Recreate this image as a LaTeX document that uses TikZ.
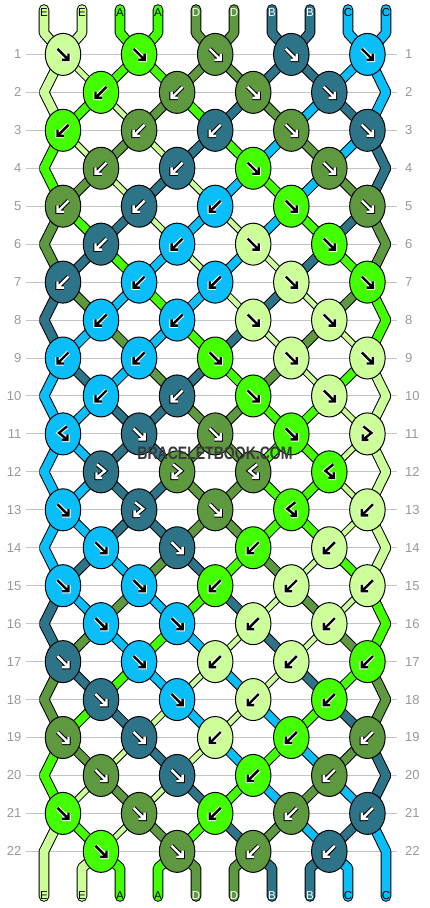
\documentclass[tikz,border=0pt]{standalone}
\usepackage{fontspec}
\setmainfont{Liberation Sans}
\usetikzlibrary{shapes.geometric}
\definecolor{cE}{HTML}{CCFF99}
\definecolor{cA}{HTML}{44FF00}
\definecolor{cD}{HTML}{5E993F}
\definecolor{cB}{HTML}{2E7489}
\definecolor{cC}{HTML}{0ABFF9}
\colorlet{tE}{black}\colorlet{tA}{black}\colorlet{tC}{black}\colorlet{tD}{white}\colorlet{tB}{white}
\colorlet{uE}{white}\colorlet{uA}{white}\colorlet{uC}{white}\colorlet{uD}{black}\colorlet{uB}{black}
\definecolor{gridc}{HTML}{C4C4C4}
\definecolor{numc}{HTML}{999999}
\definecolor{wmc}{HTML}{3A3A3A}
\newcommand\oddk[1]{\ifcase#1\or1\or1\or2\or2\or3\or3\or4\or4\or5\or5\fi}
\newcommand\evenk[1]{\ifcase#1\or L\or1\or1\or2\or2\or3\or3\or4\or4\or R\fi}
\newcommand\pn[2]{k-#1-\ifodd#1 \oddk{#2}\else\evenk{#2}\fi}
\newcommand\sdraw[3]{\ifnum\pss=0\relax\pgfmathsetmacro\sww{#2+2}\def\scc{black}\else\def\sww{#2}\def\scc{c#1}\fi\draw[draw=\scc,line width=\sww pt] #3;}
% glyphs: f = forward, b = backward, gt = ">" hook ending down-left, lt = "<" hook ending down-right
\def\gpf{(-5.5,-5.5) -- (5.5,5.5) (5.5,-0.8) -- (5.5,5.5) -- (-0.8,5.5)}
\def\gpb{(5.5,-5.5) -- (-5.5,5.5) (-5.5,-0.8) -- (-5.5,5.5) -- (0.8,5.5)}
\def\gpgt{(-4,-7.5) -- (4,-1) -- (-4.5,6) (-4.5,0.5) -- (-4.5,6) -- (1,6)}
\def\gplt{(4,-7.5) -- (-4,-1) -- (4.5,6) (4.5,0.5) -- (4.5,6) -- (-1,6)}
\newcommand\knotglyph[3]{\begin{scope}[shift={(#3)}]
  \draw[draw=u#2,line width=4.4pt,line cap=butt,line join=miter] \csname gp#1\endcsname;
  \draw[draw=t#2,line width=2.4pt,line cap=butt,line join=miter] \csname gp#1\endcsname;
\end{scope}}
\begin{document}
\begin{tikzpicture}[x=1pt,y=-1pt,line cap=round,line join=bevel,
  knot/.style={ellipse,draw=black,line width=1pt,minimum width=35.5pt,minimum height=42pt,inner sep=0pt},
  gridline/.style={draw=gridc,line width=1pt,line cap=butt},
  rownum/.style={text=numc,font=\fontsize{13}{13}\selectfont,inner sep=0pt},
  strlab/.style={font=\fontsize{11.5}{12}\selectfont,inner sep=0pt}]
\useasboundingbox (0,0) rectangle (430,908);
\fill[white] (0,0) rectangle (430,908);
% coordinates, grid, row numbers
\foreach \ro in {1,...,22} {
  \pgfmathsetmacro\yy{54.4+(\ro-1)*37.95}
  \ifodd\ro
    \foreach \ko in {1,...,5} {\coordinate (k-\ro-\ko) at ({63+76.1*(\ko-1)},\yy);}
  \else
    \foreach \ko in {1,...,4} {\coordinate (k-\ro-\ko) at ({101+76.1*(\ko-1)},\yy);}
    \coordinate (k-\ro-L) at (44,\yy);
    \coordinate (k-\ro-R) at (386,\yy);
  \fi
  \coordinate (gl-\ro) at (26,\yy);
  \coordinate (gr-\ro) at (397,\yy);
  \draw[gridline] (gl-\ro) -- (gr-\ro);
  \node[rownum,anchor=east] (ln-\ro) at (21.5,\yy) {\ro};
  \node[rownum,anchor=west] (rn-\ro) at (405,\yy) {\ro};
}
\foreach \po in {1,...,10} {
  \coordinate (t-\po) at ({44+38*(\po-1)},9.5);
  \coordinate (tb-\po) at ({44+38*(\po-1)},33);
  \coordinate (bb-\po) at ({44+38*(\po-1)},868);
  \coordinate (b-\po) at ({44+38*(\po-1)},896.5);
}
% strings: pass 0 = outlines, pass 1 = fills
\foreach \pss in {0,1} {
  \foreach \co [count=\po] in {E,E,A,A,D,D,B,B,C,C} {
    \edef\nb{\pn{1}{\po}}
    \sdraw{\co}{8.6}{(t-\po) -- (tb-\po) -- (\nb)}
    \ifnum\po>1 \ifnum\po<10
      \edef\na{\pn{22}{\po}}
      \sdraw{\co}{8.6}{(\na) -- (bb-\po) -- (b-\po)}
    \fi\fi
  }
  \foreach \ro/\cl/\cr in {1/E/C,3/A/B,5/D/D,7/B/A,9/C/E,11/C/E,13/C/E,15/B/A,17/D/D,19/A/B} {
    \pgfmathtruncatemacro\ra{\ro+1}
    \pgfmathtruncatemacro\rb{\ro+2}
    \sdraw{\cl}{8.6}{(k-\ro-1) -- (k-\ra-L) -- (k-\rb-1)}
    \sdraw{\cr}{8.6}{(k-\ro-5) -- (k-\ra-R) -- (k-\rb-5)}
  }
  \sdraw{E}{8.6}{(k-21-1) -- (k-22-L) -- (b-1)}
  \sdraw{C}{8.6}{(k-21-5) -- (k-22-R) -- (b-10)}
  \foreach \ro/\lst in {
    1/{E,E,A,A,D,D,B,B,C,C},
    2/{E,A,E,D,A,B,D,C,B,C},
    3/{A,E,D,E,B,A,C,D,C,B},
    4/{A,D,E,B,E,C,A,C,D,B},
    5/{D,A,B,E,C,E,C,A,B,D},
    6/{D,B,A,C,E,C,E,B,A,D},
    7/{B,D,C,A,C,E,B,E,D,A},
    8/{B,C,D,C,A,B,E,D,E,A},
    9/{C,B,C,D,B,A,D,E,A,E},
    10/{C,C,B,B,D,D,A,A,E,E},
    11/{C,C,B,B,D,D,A,A,E,E},
    12/{C,C,B,B,D,D,A,A,E,E},
    13/{C,C,B,B,D,D,A,A,E,E},
    14/{C,B,C,D,B,A,D,E,A,E},
    15/{B,C,D,C,A,B,E,D,E,A},
    16/{B,D,C,A,C,E,B,E,D,A},
    17/{D,B,A,C,E,C,E,B,A,D},
    18/{D,A,B,E,C,E,C,A,B,D},
    19/{A,D,E,B,E,C,A,C,D,B},
    20/{A,E,D,E,B,A,C,D,C,B},
    21/{E,A,E,D,A,B,D,C,B,C}} {
    \pgfmathtruncatemacro\rn{\ro+1}
    \foreach \co [count=\po] in \lst {
      \ifnum\po>1 \ifnum\po<10
        \edef\na{\pn{\ro}{\po}}
        \edef\nb{\pn{\rn}{\po}}
        \if\co E\def\wf{4.8}\else\def\wf{7.8}\fi
        \sdraw{\co}{\wf}{(\na) -- (\nb)}
      \fi\fi
    }
  }
}
% knots
\foreach \ro/\lst in {
  1/{E/f,A/f,D/f,B/f,C/f},
  2/{A/b,D/b,D/f,B/f},
  3/{A/b,D/b,B/b,D/f,B/f},
  4/{D/b,B/b,A/f,D/f},
  5/{D/b,B/b,C/b,A/f,D/f},
  6/{B/b,C/b,E/f,A/f},
  7/{B/b,C/b,C/b,E/f,A/f},
  8/{C/b,C/b,E/f,E/f},
  9/{C/b,C/b,A/f,E/f,E/f},
  10/{C/b,B/b,A/f,E/f},
  11/{C/lt,B/f,D/f,A/f,E/gt},
  12/{B/gt,D/gt,D/lt,A/lt},
  13/{C/f,B/gt,D/f,A/lt,E/b},
  14/{C/f,B/f,A/b,E/b},
  15/{C/f,C/f,A/b,E/b,E/b},
  16/{C/f,C/f,E/b,E/b},
  17/{B/f,C/f,E/b,E/b,A/b},
  18/{B/f,C/f,E/b,A/b},
  19/{D/f,B/f,E/b,A/b,D/b},
  20/{D/f,B/f,A/b,D/b},
  21/{A/f,D/f,A/b,D/b,B/b},
  22/{A/f,D/f,D/b,B/b}} {
  \foreach \co/\ty [count=\ko] in \lst {
    \node[knot,fill=c\co] (n-\ro-\ko) at (k-\ro-\ko) {};
    \knotglyph{\ty}{\co}{n-\ro-\ko.center}
  }
}
% string labels
\foreach \co [count=\po] in {E,E,A,A,D,D,B,B,C,C} {
  \node[strlab,text=t\co] (tl-\po) at ({44+38*(\po-1)},12.8) {\co};
  \node[strlab,text=t\co] (bl-\po) at ({44+38*(\po-1)},895.3) {\co};
}
% watermark
\node[font=\fontsize{18}{18}\selectfont\bfseries,text=wmc,xscale=0.78,inner sep=0pt] (wm) at (215,453) {BRACELETBOOK.COM};
\end{tikzpicture}
\end{document}
